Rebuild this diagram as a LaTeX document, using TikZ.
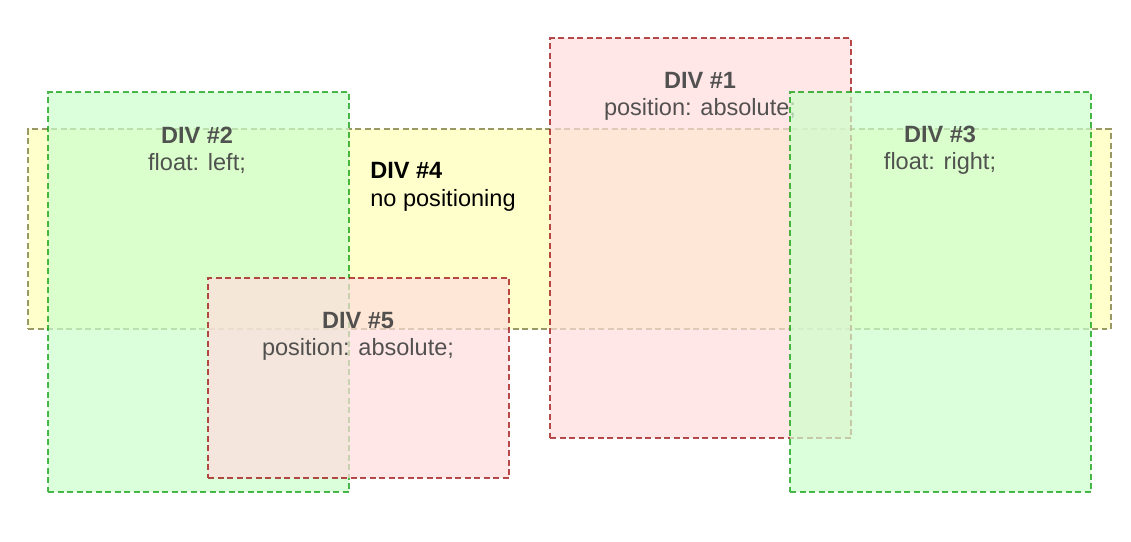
\documentclass[tikz,border=0pt]{standalone}
\usepackage{fontspec}
\setmainfont{Liberation Sans}

\definecolor{redfill}{HTML}{FFDDDD}
\definecolor{redline}{HTML}{990000}
\definecolor{greenfill}{HTML}{CCFFCC}
\definecolor{greenline}{HTML}{009900}
\definecolor{yellowfill}{HTML}{FFFFCC}
\definecolor{yellowline}{HTML}{999966}
\definecolor{textgray}{HTML}{444444}

\tikzset{
  divbox/.style={draw, line width=1.35pt, dash pattern=on 0.12cm off 0.07cm,
    inner sep=0pt, anchor=north west},
  absbox/.style={divbox, draw=redline, fill=redfill, opacity=0.7,
    minimum width=6.02cm},
  floatbox/.style={divbox, draw=greenline, fill=greenfill, opacity=0.7,
    minimum width=6.02cm, minimum height=8cm},
  plainbox/.style={divbox, draw=yellowline, fill=yellowfill},
  divlabel/.style={text=textgray, text opacity=0.92, align=center, inner sep=0pt,
    font=\fontsize{13.4}{15.6}\selectfont},
}

\begin{document}
\begin{tikzpicture}[x=0.02cm, y=-0.02cm]
    \useasboundingbox (0,0) rectangle (1131,541);

    % DIV #4 (no positioning)
    \node[plainbox, minimum width=21.66cm, minimum height=4cm] (div4) at (27,128) {};
    \node[divlabel, text=black, text opacity=1, align=left, anchor=west] (div4text) at (370,187)
        {\textbf{DIV \#4}\\no positioning};

    % DIV #1 (absolute)
    \node[absbox, minimum height=8cm] (div1) at (549,37) {};
    \node[divlabel] (div1text) at (700,96.5) {\textbf{DIV \#1}\\position: absolute;};

    % DIV #2 (float left)
    \node[floatbox] (div2) at (47,91) {};
    \node[divlabel] (div2text) at (197,150) {\textbf{DIV \#2}\\float: left;};

    % DIV #5 (absolute)
    \node[absbox, minimum height=4cm] (div5) at (207,277) {};
    \node[divlabel] (div5text) at (358,336.5) {\textbf{DIV \#5}\\position: absolute;};

    % DIV #3 (float right)
    \node[floatbox] (div3) at (789,91) {};
    \node[divlabel] (div3text) at (940,150) {\textbf{DIV \#3}\\float: right;};
\end{tikzpicture}
\end{document}
